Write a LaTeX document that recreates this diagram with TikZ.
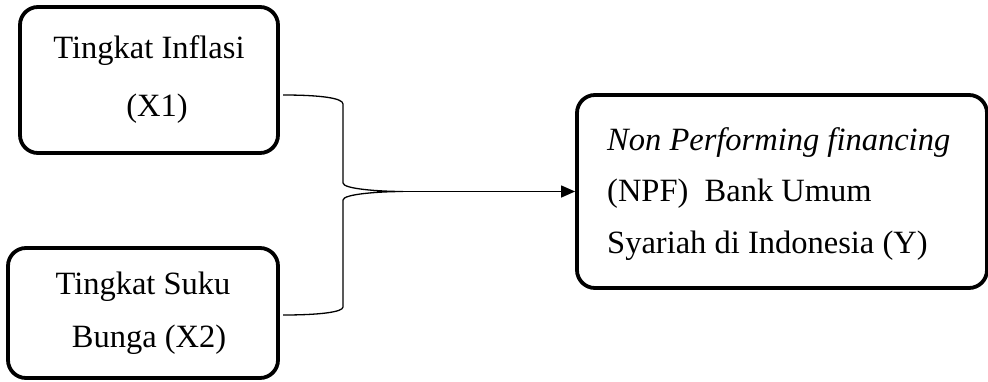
\documentclass[tikz,border=0pt]{standalone}
\usepackage{fontspec}
\setmainfont{Liberation Serif}
\usetikzlibrary{arrows.meta}
\begin{document}
\begin{tikzpicture}[x=1pt,y=-1pt,
  rbox/.style={draw, line width=3.8pt, rounded corners=18pt, inner sep=0pt},
  conn/.style={line width=1.3pt}]
\useasboundingbox (0,0) rectangle (988,381);
\node[rbox, minimum width=258pt, minimum height=146pt, align=center,
  font=\fontsize{32.5}{58}\selectfont] (x1) at (149,80) {Tingkat Inflasi\\\hspace*{16pt}(X1)};
\node[rbox, minimum width=270pt, minimum height=130pt, align=center,
  font=\fontsize{32.5}{53}\selectfont] (x2) at (143,313) {Tingkat Suku\\\hspace*{12pt}Bunga (X2)};
\node[rbox, minimum width=410pt, minimum height=193pt] (y) at (782,191.5) {};
\node[anchor=west, inner sep=0pt, align=left,
  font=\fontsize{32.5}{51.5}\selectfont] (ytext) at (607,194)
  {\textit{Non Performing financing}\\(NPF)\ \ Bank Umum\\Syariah di Indonesia (Y)};
\coordinate (bt) at (283,95);
\coordinate (bb) at (283,315);
\coordinate (tip) at (403,191.5);
\draw[conn] (bt) .. controls (320,95) and (343,98) .. (343,104) -- (343,183)
  .. controls (343,189) and (380,191.5) .. (tip)
  .. controls (380,191.5) and (343,194) .. (343,200) -- (343,307)
  .. controls (343,312) and (320,315) .. (bb);
\draw[conn, -{Triangle[length=14pt,width=12pt]}] (tip) -- (y.west);
\end{tikzpicture}
\end{document}
